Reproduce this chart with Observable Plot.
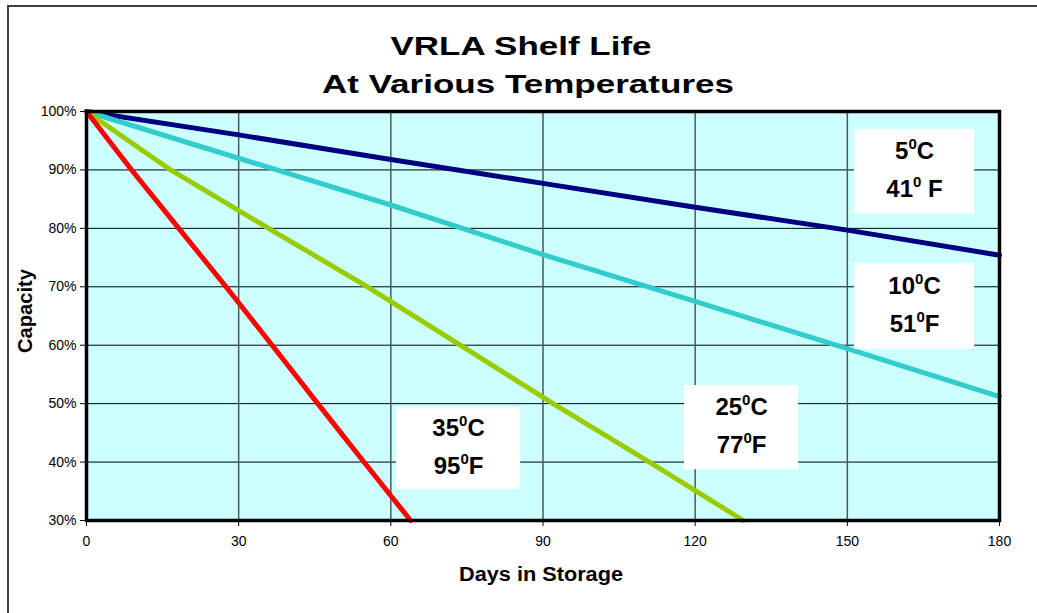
<!DOCTYPE html>
<html><head><meta charset="utf-8">
<script src="https://cdn.jsdelivr.net/npm/d3@7"></script>
<script src="https://cdn.jsdelivr.net/npm/@observablehq/plot@0.6"></script>
<style>
html,body{margin:0;padding:0;background:#fff;}
#wrap{position:relative;width:1037px;height:613px;overflow:hidden;}
#border{position:absolute;left:7px;top:5px;width:1100px;height:700px;border-top:2px solid #404040;border-left:2px solid #404040;pointer-events:none;}
</style></head><body><div id="wrap"><div id="chart"></div><div id="border"></div></div>
<script>
// ---- data ----
const seriesNames = ["5C", "10C", "25C", "35C"];
const seriesColors = ["#000080", "#33CCCC", "#99CC00", "#FF0000"];

const days5C = [0, 30, 60, 90, 120, 150, 180];
const cap5C = [100, 96, 91.8, 87.7, 83.6, 79.7, 75.4];

const days10C = [0, 30, 60, 90, 120, 150, 180];
const cap10C = [100, 92, 84, 75.5, 67.5, 59.4, 51.2];

const days25C = [0, 16.6, 35.9, 55.4, 73.7, 92, 111, 129.5];
const cap25C = [100, 90, 80, 70, 60, 50, 40, 30];

const days35C = [0, 8.9, 18.2, 27.5, 36.6, 45.6, 54.7, 63.9];
const cap35C = [100, 90, 80, 70, 60, 50, 40, 30];

const xTicks = [0, 30, 60, 90, 120, 150, 180];
const yTicks = [30, 40, 50, 60, 70, 80, 90, 100];

const titleLines = ["VRLA Shelf Life", "At Various Temperatures"];
const xLabel = "Days in Storage";
const yLabel = "Capacity";

// annotation boxes (data coordinates)
const labelLine1 = ["5^0C", "10^0C", "25^0C", "35^0C"];
const labelLine2 = ["41^0 F", "51^0F", "77^0F", "95^0F"];
const boxDayStart = [151.4, 151.4, 117.9, 61.1];
const boxDayEnd = [175.1, 175.1, 140.4, 85.6];
const boxCapTop = [96.9, 74.0, 53.1, 49.3];
const boxCapBottom = [82.5, 59.3, 38.7, 35.3];

// ---- build tables ----
const allDays = [days5C, days10C, days25C, days35C];
const allCaps = [cap5C, cap10C, cap25C, cap35C];
const rows = [];
seriesNames.forEach((s, i) => allDays[i].forEach((d, j) => rows.push({series: s, day: d, cap: allCaps[i][j]})));
const boxes = labelLine1.map((t, i) => ({
  l1: t, l2: labelLine2[i],
  x1: boxDayStart[i], x2: boxDayEnd[i], y1: boxCapBottom[i], y2: boxCapTop[i],
  cx: (boxDayStart[i] + boxDayEnd[i]) / 2, cy: (boxCapTop[i] + boxCapBottom[i]) / 2
}));

const FONT = "'Liberation Sans', Arial, sans-serif";

const chart = Plot.plot({
  width: 1037,
  height: 613,
  marginLeft: 86,
  marginRight: 38,
  marginTop: 111,
  marginBottom: 93,
  style: {fontFamily: FONT, fontSize: "14px", color: "#000", background: "transparent"},
  x: {domain: [0, 180]},
  y: {domain: [30, 100]},
  color: {domain: seriesNames, range: seriesColors},
  marks: [
    Plot.frame({fill: "#CCFFFF", stroke: "none"}),
    Plot.ruleY(yTicks.filter(d => d > 30 && d < 100), {stroke: "#000", strokeWidth: 1}),
    Plot.ruleX(xTicks.filter(d => d > 0 && d < 180), {stroke: "#555", strokeWidth: 1.5}),
    Plot.line(rows, {x: "day", y: "cap", z: "series", stroke: "series", strokeWidth: 5, strokeLinejoin: "round"}),
    Plot.rect(boxes, {x1: "x1", x2: "x2", y1: "y1", y2: "y2", fill: "#fff"}),
    Plot.text(boxes, {x: "cx", y: "cy", text: "l1", dy: -20, fontSize: 24, fontWeight: "bold", fill: "#000"}),
    Plot.text(boxes, {x: "cx", y: "cy", text: "l2", dy: 18, fontSize: 24, fontWeight: "bold", fill: "#000"}),
    Plot.frame({stroke: "#000", strokeWidth: 3.5}),
    Plot.axisY({ticks: yTicks, tickFormat: d => d + "%", tickSize: 6, tickPadding: 4, fontSize: 14, label: null}),
    Plot.axisX({ticks: xTicks, tickFormat: d => String(d), tickSize: 6, tickPadding: 10, fontSize: 14, label: null}),
    Plot.text([titleLines[0]], {frameAnchor: "top", dx: -22, dy: -75, fontSize: 26, fontWeight: "bold", fill: "#000"}),
    Plot.text([titleLines[1]], {frameAnchor: "top", dx: -15, dy: -37, fontSize: 26, fontWeight: "bold", fill: "#000"}),
    Plot.text([xLabel], {frameAnchor: "bottom", dx: -2, dy: 60, fontSize: 20, fontWeight: "bold", fill: "#000"}),
    Plot.text([yLabel], {frameAnchor: "left", textAnchor: "middle", dx: -61, dy: -5, rotate: -90, fontSize: 20, fontWeight: "bold", fill: "#000"})
  ]
});

// stretch the wide-set title and axis titles to their measured lengths
const stretch = {[titleLines[0]]: 261, [titleLines[1]]: 412, [xLabel]: 164, [yLabel]: 84};
const NS = "http://www.w3.org/2000/svg";
d3.select(chart).selectAll("text").each(function () {
  const s = this.textContent;
  if (stretch[s] !== undefined && this.childElementCount === 0) {
    this.setAttribute("textLength", stretch[s]);
    this.setAttribute("lengthAdjust", "spacingAndGlyphs");
    return;
  }
  if (!s.includes("^")) return;
  const idx = s.indexOf("^");
  const a = s.slice(0, idx), sup = s[idx + 1], b = s.slice(idx + 2);
  while (this.firstChild) this.removeChild(this.firstChild);
  const t1 = document.createElementNS(NS, "tspan"); t1.textContent = a; this.appendChild(t1);
  const t2 = document.createElementNS(NS, "tspan"); t2.textContent = sup;
  t2.setAttribute("font-size", "15"); t2.setAttribute("dy", "-10"); this.appendChild(t2);
  const t3 = document.createElementNS(NS, "tspan"); t3.textContent = b;
  t3.setAttribute("dy", "10"); this.appendChild(t3);
});

document.getElementById("chart").appendChild(chart);
</script></body></html>
